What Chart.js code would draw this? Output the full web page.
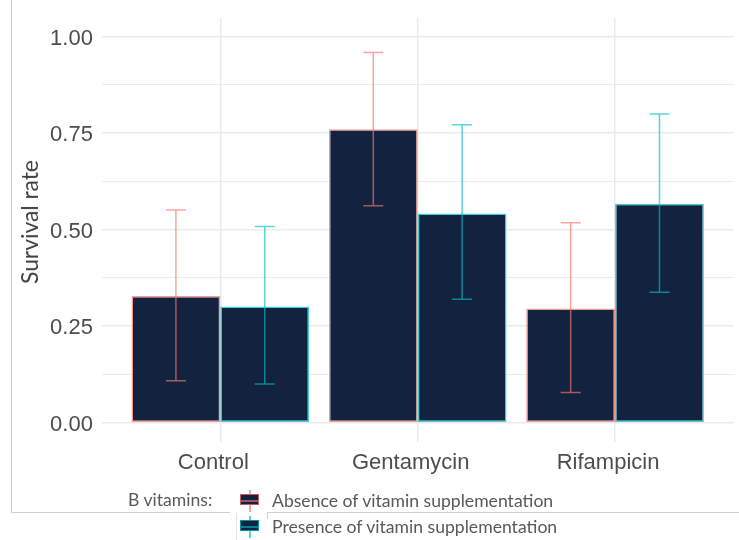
<!DOCTYPE html>
<html>
<head>
<meta charset="utf-8">
<script src="https://cdn.jsdelivr.net/npm/chart.js@4"></script>
<style>
  body { margin: 0; background: #fff; }
  #wrap { position: relative; width: 739px; height: 540px; overflow: hidden; }
  #survivalChart { position: absolute; left: 0; top: 0; }
  .ln { position: absolute; background: #cfcfcf; }
  .lg { position: absolute; font-family: Lato, "Open Sans", sans-serif; font-size: 17.6px; color: #595959; line-height: 20px; white-space: nowrap; }
  .ytitle { position: absolute; left: 28.7px; top: 221.7px; transform: translate(-50%, -50%) rotate(-90deg); font-family: Lato, "Open Sans", sans-serif; font-size: 22.8px; color: #404040; white-space: nowrap; line-height: 26px; }
  .key { position: absolute; width: 20px; height: 22px; }
  .key .wh { position: absolute; left: 9px; top: 0; width: 1.5px; height: 22px; }
  .key .box { position: absolute; left: 0; top: 4px; width: 17px; height: 9px; background: #13233f; border: 1.5px solid; }
  .key .mid { position: absolute; left: 1px; top: 10px; width: 18px; height: 1.5px; }
</style>
</head>
<body>
<div id="wrap">
  <div class="ln" style="left:11px; top:0; width:1px; height:512px;"></div>
  <div class="ln" style="left:11px; top:512px; width:219px; height:1px;"></div>
  <div class="ln" style="left:267px; top:512px; width:472px; height:1px;"></div>
  <div class="ln" style="left:267px; top:512px; width:1px; height:7px;"></div>
  <div class="ln" style="left:236px; top:513px; width:1px; height:27px; background:#e2e2e2;"></div>
  <canvas id="survivalChart" width="739" height="540"></canvas>
  <div class="ytitle">Survival rate</div>
  <div class="lg" style="left:128px; top:490px;">B vitamins:</div>
  <div class="key" style="left:240px; top:490px;">
    <div class="wh" style="background:rgba(248,118,109,0.65);"></div>
    <div class="box" style="border-color:rgba(248,118,109,0.75);"></div>
    <div class="mid" style="background:rgba(248,118,109,0.6);"></div>
  </div>
  <div class="lg" style="left:272px; top:491px;">Absence of vitamin supplementation</div>
  <div class="key" style="left:240px; top:516px;">
    <div class="wh" style="background:rgba(0,191,196,0.65);"></div>
    <div class="box" style="border-color:rgba(0,191,196,0.75);"></div>
    <div class="mid" style="background:rgba(0,191,196,0.6);"></div>
  </div>
  <div class="lg" style="left:272px; top:517px;">Presence of vitamin supplementation</div>
</div>
<script>
// data
const treatments = ['Control', 'Gentamycin', 'Rifampicin'];
const seriesNames = ['Absence of vitamin supplementation', 'Presence of vitamin supplementation'];
const absenceMean = [0.328, 0.760, 0.296];
const absenceLow = [0.109, 0.562, 0.078];
const absenceHigh = [0.551, 0.959, 0.518];
const presenceMean = [0.301, 0.542, 0.567];
const presenceLow = [0.100, 0.320, 0.338];
const presenceHigh = [0.508, 0.772, 0.800];
const yTicks = [0, 0.125, 0.25, 0.375, 0.5, 0.625, 0.75, 0.875, 1];
const xTicks = [1, 2, 3];

const navy = '#13233f';
const redLine = 'rgba(248, 118, 109, 0.75)';
const tealLine = 'rgba(0, 191, 196, 0.75)';
const gridColor = '#ebebeb';

function points(values) {
    return values.map(function (v, i) { return { x: xTicks[i], y: v }; });
}

// error bars, drawn through the scales
const errorBars = {
    id: 'errorBars',
    afterDatasetsDraw: function (chart) {
        const ctx = chart.ctx;
        const yScale = chart.scales.y;
        chart.data.datasets.forEach(function (ds, di) {
            const meta = chart.getDatasetMeta(di);
            ctx.save();
            ctx.strokeStyle = ds.errColor;
            ctx.lineWidth = 1.5;
            meta.data.forEach(function (bar, i) {
                const top = yScale.getPixelForValue(ds.errHigh[i]);
                const bottom = yScale.getPixelForValue(ds.errLow[i]);
                const half = bar.width * 0.113;
                ctx.beginPath();
                ctx.moveTo(bar.x, top);
                ctx.lineTo(bar.x, bottom);
                ctx.moveTo(bar.x - half, top);
                ctx.lineTo(bar.x + half, top);
                ctx.moveTo(bar.x - half, bottom);
                ctx.lineTo(bar.x + half, bottom);
                ctx.stroke();
            });
            ctx.restore();
        });
    }
};

const ctxSurvival = document.getElementById('survivalChart').getContext('2d');
new Chart(ctxSurvival, {
    type: 'bar',
    data: {
        datasets: [{
            label: seriesNames[0],
            data: points(absenceMean),
            errLow: absenceLow,
            errHigh: absenceHigh,
            errColor: 'rgba(248, 118, 109, 0.65)',
            backgroundColor: navy,
            borderColor: redLine,
            borderWidth: 1.5,
            borderSkipped: false
        }, {
            label: seriesNames[1],
            data: points(presenceMean),
            errLow: presenceLow,
            errHigh: presenceHigh,
            errColor: 'rgba(0, 191, 196, 0.65)',
            backgroundColor: navy,
            borderColor: tealLine,
            borderWidth: 1.5,
            borderSkipped: false
        }]
    },
    options: {
        responsive: false,
        animation: false,
        categoryPercentage: 0.9,
        barPercentage: 1.0,
        layout: {
            padding: { left: 0, right: 5.5, top: 17.4, bottom: 0 }
        },
        scales: {
            x: {
                type: 'linear',
                min: 0.4,
                max: 3.6,
                offset: false,
                afterBuildTicks: function (scale) {
                    scale.ticks = xTicks.map(function (v) { return { value: v }; });
                },
                afterFit: function (scale) {
                    scale.height = 98;
                    scale.paddingLeft = 0;
                    scale.paddingRight = 0;
                },
                grid: {
                    offset: false,
                    color: gridColor,
                    lineWidth: 1.5,
                    drawTicks: false
                },
                border: { display: false },
                ticks: {
                    padding: 8,
                    labelOffset: -7,
                    color: '#4d4d4d',
                    font: { family: '"Liberation Sans", Arial, sans-serif', size: 22 },
                    callback: function (value) {
                        return treatments[xTicks.indexOf(value)];
                    }
                }
            },
            y: {
                min: -0.05,
                max: 1.05,
                afterBuildTicks: function (scale) {
                    scale.ticks = yTicks.map(function (v) { return { value: v }; });
                },
                afterFit: function (scale) {
                    scale.width = 101.9;
                    scale.paddingTop = 0;
                    scale.paddingBottom = 0;
                },
                grid: {
                    color: gridColor,
                    lineWidth: function (c) {
                        const v = c.tick ? c.tick.value * 4 : 0;
                        return Math.abs(v - Math.round(v)) < 1e-9 ? 1.5 : 1.1;
                    },
                    drawTicks: false
                },
                border: { display: false },
                ticks: {
                    padding: 9,
                    labelOffset: 2,
                    color: '#4d4d4d',
                    font: { family: '"Liberation Sans", Arial, sans-serif', size: 22 },
                    callback: function (value) {
                        const v = value * 4;
                        return Math.abs(v - Math.round(v)) < 1e-9 ? value.toFixed(2) : '';
                    }
                }
            }
        },
        plugins: {
            legend: { display: false },
            tooltip: { enabled: false }
        }
    },
    plugins: [errorBars]
});
</script>
</body>
</html>
